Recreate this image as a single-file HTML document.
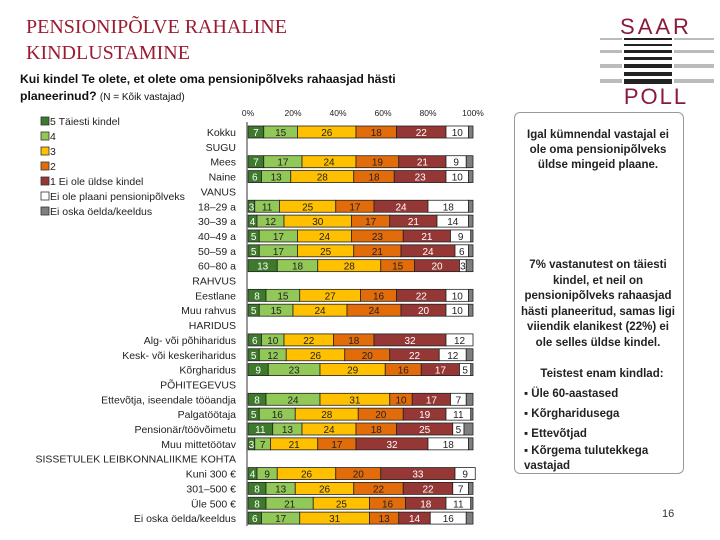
<!DOCTYPE html>
<html><head><meta charset="utf-8"><style>
body{margin:0;width:720px;height:540px;background:#fff;position:relative;overflow:hidden;font-family:"Liberation Sans",sans-serif}
.t{position:absolute}
</style></head><body>
<div class="t" style="left:26px;top:14px;font-family:'Liberation Serif',serif;font-size:20px;line-height:26px;color:#9b1b30">PENSIONIPÕLVE RAHALINE<br>KINDLUSTAMINE</div>
<div class="t" style="left:20px;top:71px;font-size:12.2px;line-height:17px;font-weight:bold;color:#111">Kui kindel Te olete, et olete oma pensionipõlveks rahaasjad hästi<br>planeerinud? <span style="font-weight:normal;font-size:10px">(N = Kõik vastajad)</span></div>
<svg class="t" style="left:600px;top:0" width="120" height="110">
<text x="56" y="34" text-anchor="middle" font-family="Liberation Sans" font-size="22" fill="#8b1a3a" letter-spacing="3">SAAR</text>
<g fill="#222"><rect x="24" y="38" width="48" height="2"/><rect x="24" y="44" width="48" height="2"/><rect x="24" y="50" width="48" height="3"/><rect x="24" y="57" width="48" height="3"/><rect x="24" y="64" width="48" height="4"/><rect x="24" y="72" width="48" height="4"/><rect x="24" y="79" width="48" height="5"/></g>
<g fill="#bbb"><rect x="0" y="38" width="22" height="2"/><rect x="74" y="38" width="40" height="2"/><rect x="0" y="50" width="22" height="3"/><rect x="74" y="50" width="40" height="3"/><rect x="0" y="64" width="22" height="4"/><rect x="74" y="64" width="40" height="4"/><rect x="0" y="79" width="22" height="4"/><rect x="74" y="79" width="40" height="4"/></g>
<text x="56" y="104" text-anchor="middle" font-family="Liberation Sans" font-size="22" fill="#8b1a3a" letter-spacing="2">POLL</text>
</svg>
<div class="t" style="left:514px;top:112px;width:168px;height:360px;border:1px solid #999;border-radius:6px"></div>
<div class="t" style="left:518px;top:128px;width:160px;font-size:11.5px;line-height:15px;font-weight:bold;text-align:center;color:#222">Igal kümnendal vastajal ei ole oma pensionipõlveks üldse mingeid plaane.</div>
<div class="t" style="left:518px;top:258px;width:160px;font-size:11.5px;line-height:15.5px;font-weight:bold;text-align:center;color:#222">7% vastanutest on täiesti kindel, et neil on pensionipõlveks rahaasjad hästi planeeritud, samas ligi viiendik elanikest (22%) ei ole selles üldse kindel.</div>
<div class="t" style="left:524px;top:364px;width:156px;font-size:11.5px;line-height:20px;font-weight:bold;color:#222"><div style="text-align:center">Teistest enam kindlad:</div>▪ Üle 60-aastased<br>▪ Kõrgharidusega<br>▪ Ettevõtjad<br><span style="line-height:15px;display:block">▪ Kõrgema tulutekkega vastajad</span></div>
<div class="t" style="left:662px;top:508px;font-size:11px;color:#333">16</div>
<svg id="c" class="t" style="left:0;top:0" width="520" height="540"></svg>
<script>
const categories=["Kokku","SUGU","Mees","Naine","VANUS","18–29 a","30–39 a","40–49 a","50–59 a","60–80 a","RAHVUS","Eestlane","Muu rahvus","HARIDUS","Alg- või põhiharidus","Kesk- või keskeriharidus","Kõrgharidus","PÕHITEGEVUS","Ettevõtja, iseendale tööandja","Palgatöötaja","Pensionär/töövõimetu","Muu mittetöötav","SISSETULEK LEIBKONNALIIKME KOHTA","Kuni 300 €","301–500 €","Üle 500 €","Ei oska öelda/keeldus"];
const s5=[7,null,7,6,null,3,4,5,5,13,null,8,5,null,6,5,9,null,8,5,11,3,null,4,8,8,6];
const s4=[15,null,17,13,null,11,12,17,17,18,null,15,15,null,10,12,23,null,24,16,13,7,null,9,13,21,17];
const s3=[26,null,24,28,null,25,30,24,25,28,null,27,24,null,22,26,29,null,31,28,24,21,null,26,26,25,31];
const s2=[18,null,19,18,null,17,17,23,21,15,null,16,24,null,18,20,16,null,10,20,18,17,null,20,22,16,13];
const s1=[22,null,21,23,null,24,21,21,24,20,null,22,20,null,32,22,17,null,17,19,25,32,null,33,22,18,14];
const sNo=[10,null,9,10,null,18,14,9,6,3,null,10,10,null,12,12,5,null,7,11,5,18,null,9,7,11,16];
const sDk=[2,null,3,2,null,2,2,1,2,3,null,2,2,null,0,3,1,null,3,1,4,2,null,0,2,1,3];
const ticks=["0%","20%","40%","60%","80%","100%"];
const legendLabels=["5 Täiesti kindel","4","3","2","1 Ei ole üldse kindel","Ei ole plaani pensionipõlveks","Ei oska öelda/keeldus"];
const series=[s5,s4,s3,s2,s1,sNo,sDk];
const colors=["#3d7a2c","#92c857","#ffc000","#e36c0a","#953735","#ffffff","#7f7f7f"];
const txt=["#fff","#222","#222","#222","#fff","#222","#222"];
const NS="http://www.w3.org/2000/svg",svg=document.getElementById('c');
const x0=248,W=225,y0=132,step=14.85,bh=12;
const X=v=>x0+v/100*W, Y=i=>y0+i*step;
function el(t,a,p){const e=document.createElementNS(NS,t);for(const k in a)e.setAttribute(k,a[k]);(p||svg).appendChild(e);return e;}
ticks.forEach((t,i)=>{const e=el('text',{x:X(i*20),y:116,'text-anchor':'middle','font-size':8.5,fill:'#222'});e.textContent=t;

});
const ax=el('line',{x1:x0-1,y1:122,x2:x0-1,y2:526,stroke:'#999','stroke-width':2});


categories.forEach((c,i)=>{
 const e=el('text',{x:236,y:Y(i)+4,'text-anchor':'end','font-size':10.5,fill:'#222'});e.textContent=c;
 
 
 if(s5[i]==null)return;
 let acc=0;
 series.forEach((s,k)=>{const v=s[i];if(!v){return;}
  const r=el('rect',{x:X(acc),y:Y(i)-bh/2,width:X(acc+v)-X(acc),height:bh,fill:colors[k],stroke:'#222','stroke-width':0.8});
  
  
  if(k<6){const t=el('text',{x:(X(acc)+X(acc+v))/2,y:Y(i)+4,'text-anchor':'middle','font-size':10,fill:txt[k]});t.textContent=v;
  
  }
  acc+=v;});
});
legendLabels.forEach((l,k)=>{const ly=122+k*15;
 const r=el('rect',{x:41,y:ly-5,width:8,height:8,fill:colors[k],stroke:'#333','stroke-width':0.8});
 
 
 const t=el('text',{x:50,y:ly+3,'font-size':10.5,fill:'#222'});t.textContent=l;
 
 });
</script>
</body></html>
